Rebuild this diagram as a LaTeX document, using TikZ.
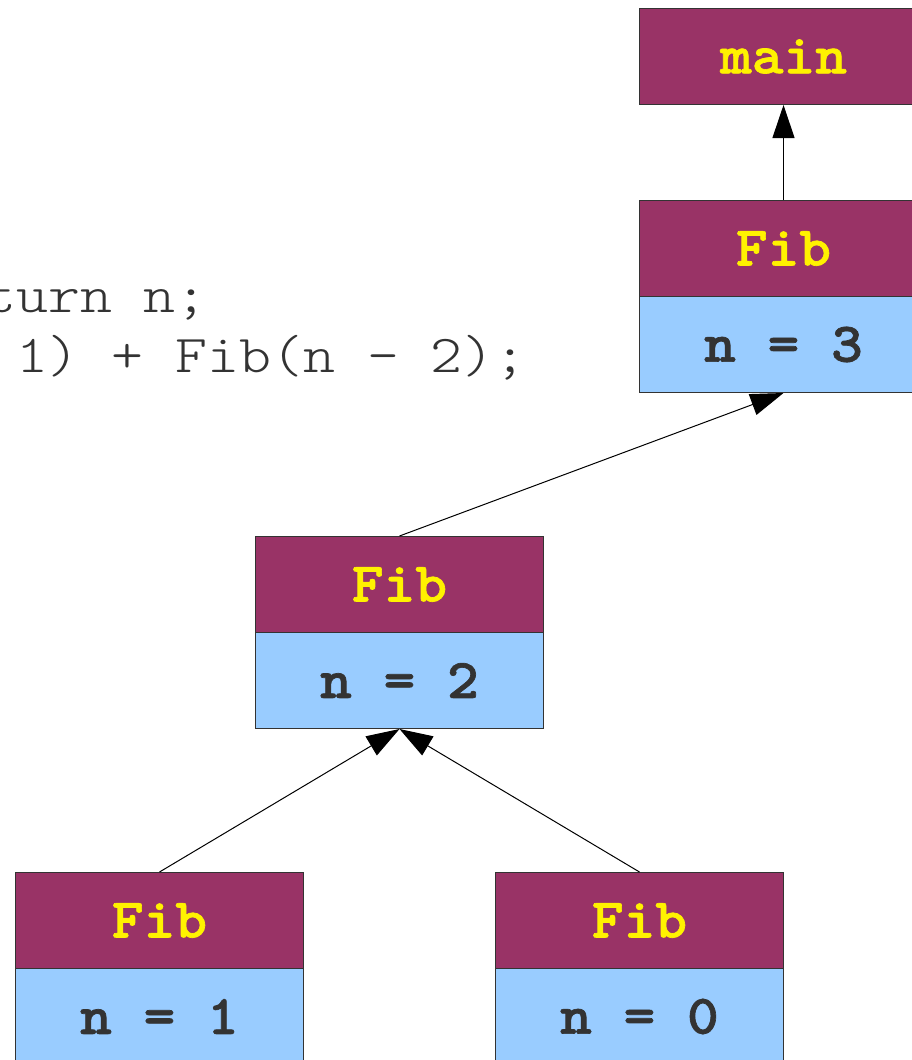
\documentclass[tikz,border=0pt]{standalone}
\usepackage{fontspec}
\usetikzlibrary{arrows.meta}
\definecolor{hdrcol}{HTML}{993366}
\definecolor{bodycol}{HTML}{99CCFF}
\definecolor{edgecol}{HTML}{333333}
\definecolor{codecol}{HTML}{333333}
\newfontfamily\boxfont{lmmonolt10-bold.otf}[FakeStretch=1.08,FakeBold=1.2]
\newfontfamily\codefont{lmmonolt10-regular.otf}[FakeStretch=1.14]
\begin{document}
\begin{tikzpicture}[x=0.75pt,y=-0.75pt,
  framebox/.style={draw=edgecol, line width=0.75pt, minimum width=216pt, minimum height=72pt, inner sep=0pt, anchor=north west},
  hdr/.style={framebox, fill=hdrcol, text=yellow, font=\boxfont\fontsize{42}{50}\selectfont},
  bdy/.style={framebox, fill=bodycol, text=edgecol, font=\boxfont\fontsize{42}{50}\selectfont},
  codeline/.style={anchor=base east, inner sep=0pt, text=codecol, font=\codefont\fontsize{40}{48}\selectfont},
  arr/.style={draw=black, line width=0.75pt, -{Triangle[length=24.75pt,width=16.5pt]}}]
\clip (0,0) rectangle (912,1060);
\fill[white] (0,0) rectangle (912,1060);
% code
\node[codeline] (code1) at (208,312) {turn n;};
\node[codeline] (code2) at (527,372) {1) + Fib(n - 2);};
% frames
\node[hdr] (mainH) at (639,8) {main};
\node[hdr] (f3H) at (639,200) {Fib};
\node[bdy] (f3B) at (639,296) {n = 3};
\node[hdr] (f2H) at (255,536) {Fib};
\node[bdy] (f2B) at (255,632) {n = 2};
\node[hdr] (f1H) at (15,872) {Fib};
\node[bdy] (f1B) at (15,968) {n = 1};
\node[hdr] (f0H) at (495,872) {Fib};
\node[bdy] (f0B) at (495,968) {n = 0};
% connectors
\draw[arr] (f3H.north) -- (mainH.south);
\draw[arr] (f2H.north) -- (f3B.south);
\draw[arr] (f1H.north) -- (f2B.south);
\draw[arr] (f0H.north) -- (f2B.south);
\end{tikzpicture}
\end{document}
